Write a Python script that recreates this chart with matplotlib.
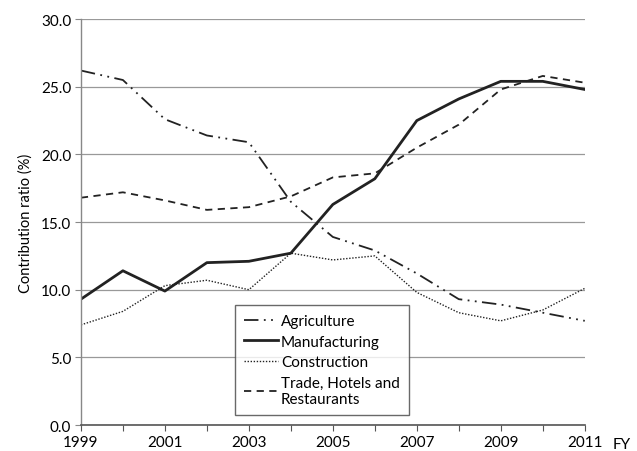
import matplotlib
matplotlib.use('Agg')
import matplotlib.pyplot as plt

plt.rcParams['font.family'] = ['Lato', 'DejaVu Sans']

# data
years = list(range(1999, 2012))
agriculture = [26.2, 25.5, 22.6, 21.4, 20.9, 16.5, 13.9, 12.9, 11.2, 9.3, 8.9, 8.3, 7.7]
manufacturing = [9.3, 11.4, 9.9, 12.0, 12.1, 12.7, 16.3, 18.2, 22.5, 24.1, 25.4, 25.4, 24.8]
construction = [7.4, 8.4, 10.3, 10.7, 10.0, 12.7, 12.2, 12.5, 9.8, 8.3, 7.7, 8.5, 10.1]
trade = [16.8, 17.2, 16.6, 15.9, 16.1, 16.9, 18.3, 18.6, 20.5, 22.2, 24.8, 25.8, 25.3]
y_ticks = [0, 5, 10, 15, 20, 25, 30]
x_labels = [1999, 2001, 2003, 2005, 2007, 2009, 2011]

fig = plt.figure(figsize=(6.37, 4.52), dpi=100)
ax = fig.add_axes([0.127, 0.0575, 0.791, 0.898])

ax.plot(years, agriculture, color='#222222', lw=1.3, dashes=(8, 3, 1, 3, 1, 3),
        label='Agriculture')
ax.plot(years, manufacturing, color='#222222', lw=2.0, label='Manufacturing')
ax.plot(years, construction, color='#222222', lw=1.0, dashes=(1, 1.2),
        label='Construction')
ax.plot(years, trade, color='#222222', lw=1.3, dashes=(4, 3),
        label='Trade, Hotels and\nRestaurants')

ax.set_xlim(1999, 2011)
ax.set_ylim(0, 30)
ax.set_yticks(y_ticks)
ax.set_yticklabels([f'{v:.1f}' for v in y_ticks])
ax.set_xticks(years)
ax.set_xticklabels([str(y) if y in x_labels else '' for y in years])
ax.yaxis.grid(True, color='#999999', lw=0.9)
ax.set_axisbelow(True)

for s in ['top', 'right']:
    ax.spines[s].set_visible(False)
ax.spines['left'].set_color('#888888')
ax.spines['bottom'].set_color('#555555')
ax.spines['left'].set_linewidth(1.0)
ax.spines['bottom'].set_linewidth(1.2)
ax.tick_params(axis='y', length=4, color='#888888', labelsize=11, pad=3)
ax.tick_params(axis='x', length=4, color='#555555', labelsize=11, pad=3)

ax.set_ylabel('Contribution ratio (%)', fontsize=10.5, labelpad=6)
ax.text(1.055, -0.03, 'FY', transform=ax.transAxes, fontsize=11, va='top', ha='left')

leg = ax.legend(loc='lower left', bbox_to_anchor=(0.306, 0.025, 0.345, 0.273),
                mode='expand', fontsize=11, frameon=True, fancybox=False,
                handlelength=2.2, handletextpad=0.2, labelspacing=0.42,
                borderpad=0.6, borderaxespad=0)
leg.get_frame().set_edgecolor('#444444')
leg.get_frame().set_linewidth(1.0)

fig.savefig('out.png', dpi=100, facecolor='white')
